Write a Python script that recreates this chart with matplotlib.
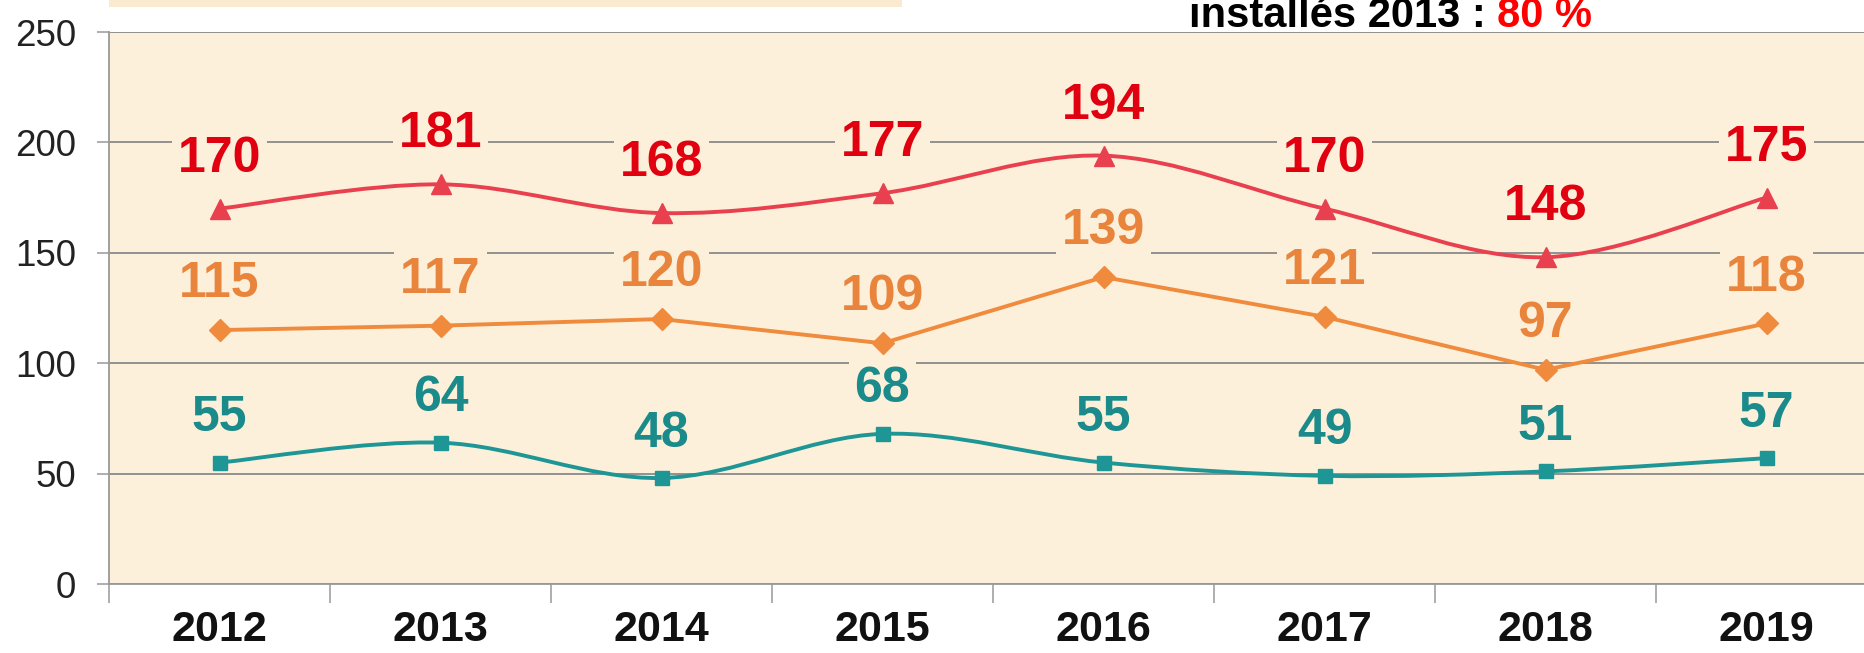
import matplotlib
matplotlib.use("Agg")
import matplotlib.pyplot as plt
from matplotlib.path import Path
from matplotlib.patches import PathPatch, Rectangle
import numpy as np

plt.rcParams['font.family'] = ['Liberation Sans', 'DejaVu Sans']

# ---- data ----
years = ["2012", "2013", "2014", "2015", "2016", "2017", "2018", "2019"]
red_values = [170, 181, 168, 177, 194, 170, 148, 175]
orange_values = [115, 117, 120, 109, 139, 121, 97, 118]
teal_values = [55, 64, 48, 68, 55, 49, 51, 57]
y_ticks = [0, 50, 100, 150, 200, 250]
title_black = "installés 2013 :"
title_red = "80 %"

# ---- style ----
BG = '#FCF0DA'
GRID = '#8A8A8A'
RED_LINE = '#E8404F'
RED_TXT = '#E0000F'
ORA_LINE = '#F08A3C'
ORA_TXT = '#E9843C'
TEAL_LINE = '#1E9696'
TEAL_TXT = '#1A8A8A'

W, H = 1864, 653
fig = plt.figure(figsize=(W / 100, H / 100), dpi=100)
fig.patch.set_facecolor('white')

left_px, right_px, top_px, bottom_px = 109, 1877, 32, 584
ax = fig.add_axes([left_px / W, 1 - bottom_px / H,
                   (right_px - left_px) / W, (bottom_px - top_px) / H])
ax.set_facecolor(BG)

x = np.arange(len(years))
ax.set_xlim(-0.5, len(years) - 0.5)
ax.set_ylim(0, 250)

# grid
ax.set_axisbelow(True)
ax.yaxis.grid(True, color=GRID, linewidth=1.3, zorder=0.5)
for s in ['top', 'right']:
    ax.spines[s].set_visible(False)
for s in ['left', 'bottom']:
    ax.spines[s].set_color('#999999')
    ax.spines[s].set_linewidth(1.3)

ax.set_yticks(y_ticks)
ax.set_yticklabels([str(v) for v in y_ticks], fontsize=26.5, color='#222222')
ax.tick_params(axis='y', length=8.6, width=1.1, color='#999999', pad=15)

ax.set_xticks(x)
ax.set_xticklabels(years, fontsize=31, fontweight='bold', color='#111111')
ax.set_xticks(np.arange(-0.5, len(years) + 0.5, 1), minor=True)
ax.tick_params(axis='x', which='major', length=0, pad=19)
ax.tick_params(axis='x', which='minor', length=14, width=1.1, color='#999999')


def smooth_path(xs, ys):
    pts = np.column_stack([xs, ys]).astype(float)
    n = len(pts)
    verts = [pts[0]]
    codes = [Path.MOVETO]
    for i in range(n - 1):
        p0 = pts[max(i - 1, 0)]
        p1 = pts[i]
        p2 = pts[i + 1]
        p3 = pts[min(i + 2, n - 1)]
        c1 = p1 + (p2 - p0) / 6.0
        c2 = p2 - (p3 - p1) / 6.0
        verts += [c1, c2, p2]
        codes += [Path.CURVE4] * 3
    return Path(verts, codes)


# red series (smoothed)
ax.add_patch(PathPatch(smooth_path(x, red_values), facecolor='none',
                       edgecolor=RED_LINE, linewidth=2.8, zorder=4,
                       capstyle='round', joinstyle='round'))
ax.plot(x, red_values, linestyle='none', marker='^', markersize=14,
        color=RED_LINE, zorder=5)

# orange series (straight)
ax.plot(x, orange_values, color=ORA_LINE, linewidth=2.8, marker='D',
        markersize=11, zorder=4)

# teal series (smoothed)
ax.add_patch(PathPatch(smooth_path(x, teal_values), facecolor='none',
                       edgecolor=TEAL_LINE, linewidth=2.8, zorder=4,
                       capstyle='round', joinstyle='round'))
ax.plot(x, teal_values, linestyle='none', marker='s', markersize=10,
        color=TEAL_LINE, zorder=5)

# value labels
for vals, col, off in [(red_values, RED_TXT, 36), (orange_values, ORA_TXT, 33),
                       (teal_values, TEAL_TXT, 32)]:
    for xi, v in zip(x, vals):
        ax.annotate(str(v), (xi, v), xytext=(0, off), textcoords='offset points',
                    ha='center', va='center', fontsize=36, fontweight='bold',
                    color=col, zorder=3,
                    bbox=dict(boxstyle='square,pad=0.12', fc=BG, ec='none'))

# top-left strip (partial box)
fig.patches.append(Rectangle((109 / W, 1 - 7 / H), (902 - 109) / W, 7 / H,
                             transform=fig.transFigure, facecolor='#FAEBD0',
                             edgecolor='none'))

# partial title at top right
t1 = fig.text(1189 / W, 1 - 27 / H, title_black, fontsize=30, fontweight='bold',
              color='black', ha='left', va='baseline')
fig.canvas.draw()
ax.annotate(title_red, xy=(1, 0), xycoords=t1, xytext=(8, 0),
            textcoords='offset points', ha='left', va='bottom',
            fontsize=30, fontweight='bold', color='#FF0000',
            annotation_clip=False)

fig.savefig('out.png', dpi=100, facecolor='white')
